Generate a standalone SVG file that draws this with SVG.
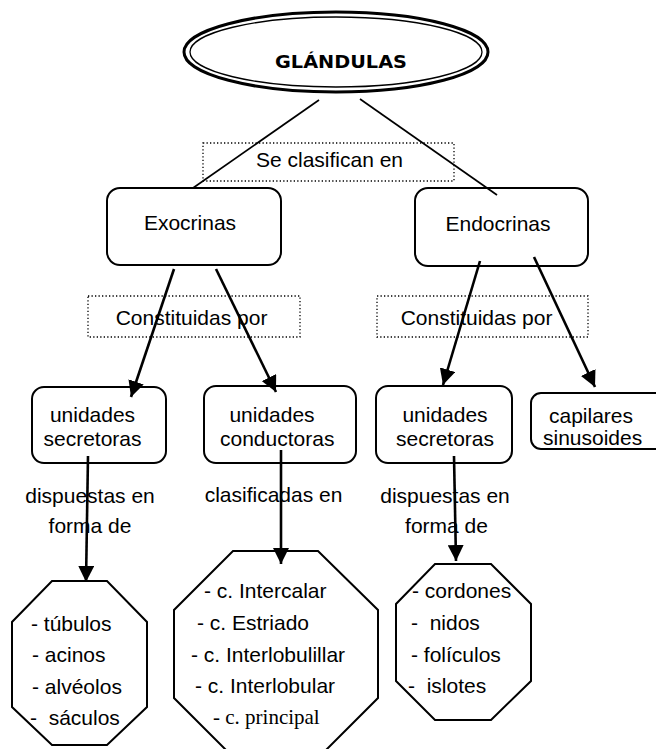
<svg xmlns="http://www.w3.org/2000/svg" width="656" height="749" viewBox="0 0 656 749">
<style>
.t{font-family:"Liberation Sans",Arial,sans-serif;font-size:21px;fill:#000}
.m{text-anchor:middle}
.s{font-family:"Liberation Serif","Times New Roman",serif;font-size:21px;fill:#000}
.box{fill:#fff;stroke:#000;stroke-width:2}
.dot{fill:none;stroke:#000;stroke-width:1.3;stroke-dasharray:1.3 2.2}
.oct{fill:#fff;stroke:#000;stroke-width:2}
.ln{stroke:#000;stroke-width:1.7;fill:none}
.ar{stroke:#000;stroke-width:2.6;fill:none;marker-end:url(#ah)}
</style>
<defs>
<marker id="ah" markerUnits="userSpaceOnUse" markerWidth="16" markerHeight="16" refX="15" refY="7.5" orient="auto" viewBox="0 0 15 15">
<path d="M0,0 L15,7.5 L0,15 z" fill="#000"/>
</marker>
</defs>
<rect width="656" height="749" fill="#fff"/>

<g id="labels">
<rect class="dot" x="203" y="143" width="251" height="38"/>
<text class="t m" x="329.5" y="167">Se clasifican en</text>
<rect class="dot" x="88" y="296" width="212" height="41"/>
<text class="t m" x="191.5" y="325">Constituidas por</text>
<rect class="dot" x="377" y="296" width="211" height="41"/>
<text class="t m" x="476.5" y="325">Constituidas por</text>
<text class="t m" x="90" y="503">dispuestas en</text>
<text class="t m" x="90" y="533">forma de</text>
<text class="t m" x="273.5" y="502">clasificadas en</text>
<text class="t m" x="445" y="503">dispuestas en</text>
<text class="t m" x="446.5" y="533">forma de</text>
</g>

<g id="glandulas">
<ellipse cx="336" cy="52" rx="152" ry="40" fill="#fff" stroke="#000" stroke-width="3"/>
<ellipse cx="336" cy="52" rx="146" ry="35" fill="none" stroke="#000" stroke-width="1.3"/>
<text x="341" y="68" text-anchor="middle" font-family="'DejaVu Sans',sans-serif" font-weight="bold" font-size="18" textLength="132" lengthAdjust="spacingAndGlyphs">GLÁNDULAS</text>
</g>

<g id="exocrinas">
<rect class="box" x="107" y="188" width="174" height="77" rx="13"/>
<text class="t m" x="190" y="230">Exocrinas</text>
</g>

<g id="endocrinas">
<rect class="box" x="415" y="188" width="173" height="78" rx="13"/>
<text class="t m" x="498" y="231">Endocrinas</text>
</g>

<g id="secretoras1">
<rect class="box" x="32" y="387" width="134" height="76" rx="12"/>
<text class="t m" x="92.5" y="422">unidades</text>
<text class="t m" x="92.5" y="446">secretoras</text>
</g>

<g id="conductoras">
<rect class="box" x="204" y="386" width="152" height="77" rx="12"/>
<text class="t m" x="272" y="422">unidades</text>
<text class="t" x="220" y="446">conductoras</text>
</g>

<g id="secretoras2">
<rect class="box" x="376" y="386" width="136" height="77" rx="12"/>
<text class="t m" x="445" y="422">unidades</text>
<text class="t m" x="445" y="446">secretoras</text>
</g>

<g id="capilares">
<rect class="box" x="531" y="393" width="150" height="56" rx="10"/>
<text class="t" x="549" y="423">capilares</text>
<text class="t" x="543" y="445">sinusoides</text>
</g>

<g id="oct1">
<polygon class="oct" points="52,581 107,581 147,622 147,707 107,745 52,745 12,707 12,622"/>
<text class="t" x="31" y="631">- túbulos</text>
<text class="t" x="32" y="662">- acinos</text>
<text class="t" x="32" y="694">- alvéolos</text>
<text class="t" x="30" y="725" xml:space="preserve">-  sáculos</text>
</g>

<g id="oct2">
<polygon class="oct" points="233,551 318,551 378,610 378,698 319,757 233,757 174,698 174,610"/>
<text class="t" x="204" y="598">- c. Intercalar</text>
<text class="t" x="197" y="630">- c. Estriado</text>
<text class="t" x="191" y="662">- c. Interlobulillar</text>
<text class="t" x="195" y="693">- c. Interlobular</text>
<text class="s" x="213" y="724">- c. principal</text>
</g>

<g id="oct3">
<polygon class="oct" points="435,564 491,564 531,604 531,681 491,720 435,720 396,681 396,604"/>
<text class="t" x="412" y="598">- cordones</text>
<text class="t" x="411" y="630" xml:space="preserve">-  nidos</text>
<text class="t" x="411" y="662">- folículos</text>
<text class="t" x="408" y="693" xml:space="preserve">-  islotes</text>
</g>

<g id="connectors">
<line class="ln" x1="319" y1="100" x2="193" y2="188"/>
<line class="ln" x1="360" y1="99" x2="497" y2="195"/>
<line class="ar" x1="174" y1="269" x2="131" y2="397"/>
<line class="ar" x1="216" y1="269" x2="276" y2="392"/>
<line class="ar" x1="480" y1="261" x2="443" y2="385"/>
<line class="ar" x1="534" y1="257" x2="595" y2="387"/>
<line class="ar" x1="88" y1="456" x2="86" y2="582"/>
<line class="ar" x1="281" y1="450" x2="281" y2="564"/>
<line class="ar" x1="454" y1="456" x2="456" y2="561"/>
</g>
</svg>
